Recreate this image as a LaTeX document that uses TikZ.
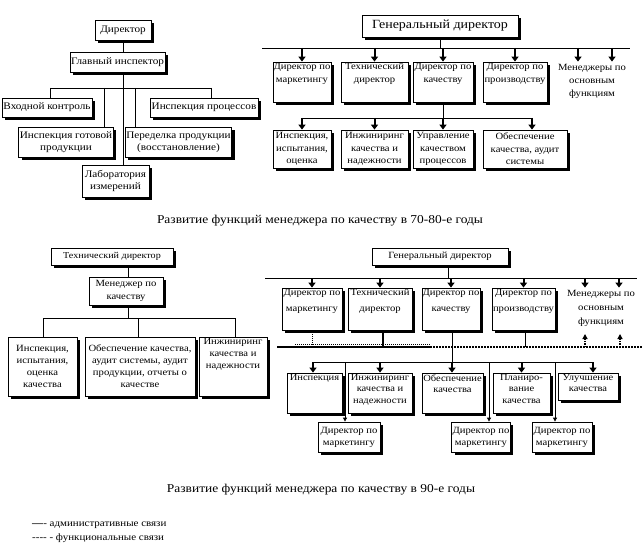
\documentclass[tikz,border=0pt]{standalone}
\usepackage{fontspec}
\setmainfont{Liberation Serif}[FakeStretch=1.12]
\usetikzlibrary{arrows.meta,shadows}
\begin{document}
\begin{tikzpicture}[x=1pt,y=-1pt,
  box/.style={draw, line width=0.8pt, fill=white, inner sep=1pt, align=center,
    drop shadow={shadow xshift=3pt, shadow yshift=-3pt, fill=black, opacity=1}},
  txt/.style={inner sep=1pt, align=center},
  lbl/.style={anchor=north, align=center, inner sep=0pt, yshift=-1.5pt},
  con/.style={line width=0.8pt},
  thickcon/.style={line width=2pt},
  arr/.style={line width=2pt, -{Triangle[width=7pt,length=5pt]}},
  sarr/.style={line width=0.8pt, -{Triangle[width=4pt,length=4pt]}},
  uarr/.style={line width=1.2pt, dash pattern=on 1.5pt off 1pt, -{Triangle[width=5pt,length=5pt]}},
  fn/.style={line width=0.8pt, dash pattern=on 1pt off 1pt},
  fnthick/.style={line width=2pt, dash pattern=on 2pt off 1pt},
  ftl/.style={font=\fontsize{10}{12}\selectfont},
  fgd/.style={font=\fontsize{12.5}{14}\selectfont},
  ftr/.style={font=\fontsize{9.5}{13}\selectfont},
  ftrb/.style={font=\fontsize{9.5}{12.5}\selectfont},
  fcap/.style={font=\fontsize{12}{14}\selectfont},
  fbl/.style={font=\fontsize{9}{10}\selectfont},
  fblm/.style={font=\fontsize{9.5}{13}\selectfont},
  fblb/.style={font=\fontsize{9.5}{12}\selectfont},
  fbr/.style={font=\fontsize{9.5}{16}\selectfont},
  fbrm/.style={font=\fontsize{9.5}{14}\selectfont},
  fbrb/.style={font=\fontsize{9.4}{11.5}\selectfont},
  fleg/.style={font=\fontsize{9.8}{12}\selectfont}]
\useasboundingbox (0,0) rectangle (642,556);

% ---------------- top-left: 70-80 ----------------
\node[box,ftl,minimum width=56pt,minimum height=20pt] (dir) at (123,30) {Директор};
\node[box,ftl,minimum width=95pt,minimum height=20pt] (gi) at (117.5,62) {Главный инспектор};
\node[box,ftl,minimum width=90pt,minimum height=19pt] (vk) at (47,107.5) {Входной контроль};
\node[box,ftl,minimum width=108pt,minimum height=19pt] (ip) at (204,107.5) {Инспекция процессов};
\node[box,ftl,minimum width=90pt,minimum height=30pt] (igp) at (66,142) {Инспекция готовой\\продукции};
\node[box,ftl,minimum width=103pt,minimum height=30pt] (pp) at (178.5,142) {Переделка продукции\\(восстановление)};
\node[box,ftl,minimum width=67pt,minimum height=32pt] (lab) at (115.5,181) {Лаборатория\\измерений};

\coordinate (tlv) at (123,88);
\coordinate (tlA) at (50,88);
\coordinate (tlB) at (104,88);
\coordinate (tlC) at (135,88);
\coordinate (tlD) at (211,88);
\draw[con] (dir.south) -- (dir.south |- gi.north);
\draw[con] (tlv |- gi.south) -- (tlv |- lab.north);
\draw[con] (tlA) -- (tlD);
\draw[con] (tlA) -- (tlA |- vk.north);
\draw[con] (tlB) -- (tlB |- igp.north);
\draw[con] (tlC) -- (tlC |- pp.north);
\draw[con] (tlD) -- (tlD |- ip.north);

% ---------------- top-right: 70-80 ----------------
\node[box,fgd,minimum width=156pt,minimum height=22pt] (gd) at (440,26) {Генеральный директор};
\coordinate (trL) at (262,48);
\coordinate (trR) at (630,48);
\draw[con] (trL) -- (trR);
\draw[con] (gd.south) -- (gd.south |- trL);

\node[box,minimum width=58pt,minimum height=40pt,label={[lbl,ftr]north:Директор по\\маркетингу}] (dm1) at (302,82) {};
\node[box,minimum width=67pt,minimum height=40pt,label={[lbl,ftr]north:Технический\\директор}] (td1) at (374.5,82) {};
\node[box,minimum width=60pt,minimum height=40pt,label={[lbl,ftr]north:Директор по\\качеству}] (dk1) at (443,82) {};
\node[box,minimum width=64pt,minimum height=40pt,label={[lbl,ftr]north:Директор по\\производству}] (dp1) at (515,82) {};
\node[txt,ftr] (men1) at (592,81) {Менеджеры по\\основным\\функциям};
\coordinate (trm1) at (578,48);
\coordinate (trm2) at (612,48);
\foreach \n in {dm1,td1,dk1,dp1} \draw[arr] (\n.north |- trL) -- (\n.north);
\draw[arr] (trm1) -- (trm1 |- dm1.north);
\draw[arr] (trm2) -- (trm2 |- dm1.north);

\node[box,ftrb,minimum width=58pt,minimum height=38pt] (ti) at (302,149) {Инспекция,\\испытания,\\оценка};
\node[box,ftrb,minimum width=67pt,minimum height=38pt] (tn) at (374.5,149) {Инжиниринг\\качества и\\надежности};
\node[box,ftrb,minimum width=60pt,minimum height=38pt] (tu) at (443,149) {Управление\\качеством\\процессов};
\node[box,ftrb,minimum width=84pt,minimum height=38pt] (to) at (525,149) {Обеспечение\\качества, аудит\\системы};
\coordinate (tb2L) at (302,118);
\coordinate (tb2R) at (532,118);
\draw[con] (dk1.south) -- (dk1.south |- tb2L);
\draw[con] (tb2L) -- (tb2R);
\foreach \n in {ti,tn,tu} \draw[arr] (\n.north |- tb2L) -- (\n.north);
\draw[arr] (tb2R) -- (tb2R |- to.north);

\node[txt,fcap] (cap1) at (320,221) {Развитие функций менеджера по качеству в 70-80-е годы};

% ---------------- bottom-left: 90 ----------------
\node[box,fbl,minimum width=122pt,minimum height=17pt] (td2) at (112,256.5) {Технический директор};
\node[box,fblm,minimum width=74pt,minimum height=28pt] (mk) at (126,291) {Менеджер по\\качеству};
\coordinate (blv) at (128,318);
\coordinate (blA) at (43,318);
\coordinate (blB) at (138,318);
\coordinate (blC) at (235,318);
\draw[con] (blv |- td2.south) -- (blv |- mk.north);
\draw[con] (blv |- mk.south) -- (blv);
\draw[con] (blA) -- (blC);
\node[box,fblb,minimum width=69pt,minimum height=59pt] (bi) at (42.5,366.5) {Инспекция,\\испытания,\\оценка\\качества};
\node[box,fblb,minimum width=110pt,minimum height=59pt] (bo) at (140,366.5) {Обеспечение качества,\\аудит системы, аудит\\продукции, отчеты о\\качестве};
\node[box,minimum width=68pt,minimum height=59pt,label={[lbl,fblb]north:Инжиниринг\\качества и\\надежности}] (bn) at (233,366.5) {};
\draw[con] (blA) -- (blA |- bi.north);
\draw[con] (blB) -- (blB |- bo.north);
\draw[con] (blC) -- (blC |- bn.north);

% ---------------- bottom-right: 90 ----------------
\node[box,fbr,minimum width=136pt,minimum height=17pt] (gd2) at (440,256.5) {Генеральный директор};
\coordinate (brL) at (265,278);
\coordinate (brR) at (637,278);
\coordinate (brv) at (448,278);
\draw[con] (brL) -- (brR);
\draw[con] (brv |- gd2.south) -- (brv);

\node[box,minimum width=60pt,minimum height=42pt,label={[lbl,fbr]north:Директор по\\маркетингу}] (dm2) at (312,309) {};
\node[box,minimum width=64pt,minimum height=42pt,label={[lbl,fbr]north:Технический\\директор}] (td3) at (380,309) {};
\node[box,minimum width=58pt,minimum height=42pt,label={[lbl,fbr]north:Директор по\\качеству}] (dk2) at (451,309) {};
\node[box,minimum width=63pt,minimum height=42pt,label={[lbl,fbr]north:Директор по\\производству}] (dp2) at (523.5,309) {};
\node[txt,fbrm] (men2) at (601,308) {Менеджеры по\\основным\\функциям};
\coordinate (brm1) at (585,278);
\coordinate (brm2) at (619,278);
\foreach \n in {dm2,td3,dk2,dp2} \draw[arr] (\n.north |- brL) -- (\n.north);
\draw[arr] (brm1) -- (brm1 |- dm2.north);
\draw[arr] (brm2) -- (brm2 |- dm2.north);

% administrative / functional bar
\coordinate (fa) at (277,347);
\coordinate (fb) at (430,347);
\coordinate (fc) at (642,347);
\coordinate (fd) at (295,344);
\coordinate (u1) at (585,347);
\coordinate (u2) at (620,347);
\coordinate (u1t) at (585,334);
\coordinate (u2t) at (620,334);
\draw[thickcon] (fa) -- (fb);
\draw[fn] (fd) -- (fd -| fb);
\draw[fnthick] (fb) -- (fc);
\draw[fn] (dm2.south) -- (dm2.south |- fa);
\draw[thickcon] ([xshift=3pt]td3.south) -- ([xshift=3pt]td3.south |- fa);
\draw[con] ([xshift=1.5pt]dp2.south) -- ([xshift=1.5pt]dp2.south |- fa);
\draw[uarr] (u1) -- (u1t);
\draw[uarr] (u2) -- (u2t);

% lower administrative bar
\coordinate (lbL) at (313,362);
\coordinate (lbR) at (593,362);
\coordinate (lbv) at (452,362);
\draw[con] (lbv |- dk2.south) -- (lbv);
\draw[con] (lbL) -- (lbR);

\node[box,minimum width=55pt,minimum height=40pt,label={[lbl,fbrb]north:Инспекция}] (ri) at (314.5,393) {};
\node[box,minimum width=64pt,minimum height=40pt,label={[lbl,fbrb]north:Инжиниринг\\качества и\\надежности}] (rn) at (380,393) {};
\node[box,minimum width=61pt,minimum height=40pt,label={[lbl,fbrb]north:Обеспечение\\качества}] (ro) at (452.5,393) {};
\node[box,minimum width=57pt,minimum height=40pt,label={[lbl,fbrb]north:Планиро-\\вание\\качества}] (rp) at (521.5,393) {};
\node[box,minimum width=60pt,minimum height=27pt,label={[lbl,fbrb]north:Улучшение\\качества}] (ru) at (588,386.5) {};
\draw[arr] (lbL) -- (lbL |- ri.north);
\draw[arr] (rn.north |- lbL) -- (rn.north);
\draw[arr] (lbv) -- (lbv |- ro.north);
\draw[arr] (rp.north |- lbL) -- (rp.north);
\draw[arr] (lbR) -- (lbR |- ru.north);

\node[box,fblb,minimum width=62pt,minimum height=30pt] (sm1) at (349,437) {Директор по\\маркетингу};
\node[box,fblb,minimum width=58pt,minimum height=30pt] (sm2) at (481,437) {Директор по\\маркетингу};
\node[box,fblb,minimum width=60pt,minimum height=30pt] (sm3) at (562,437) {Директор по\\маркетингу};
\coordinate (s1) at (345,362);
\coordinate (s2) at (489,362);
\coordinate (s3) at (555,362);
\draw[sarr] (s1) -- (s1 |- sm1.north);
\draw[sarr] (s2) -- (s2 |- sm2.north);
\draw[sarr] (s3) -- (s3 |- sm3.north);

\node[txt,fcap] (cap2) at (321,490) {Развитие функций менеджера по качеству в 90-е годы};

% legend
\node[txt,fleg,anchor=west] (lg1) at (31,525) {\textbf{—}- административные связи};
\node[txt,fleg,anchor=west] (lg2) at (31,538) {-{}-{}-{}- - функциональные связи};
\end{tikzpicture}
\end{document}
